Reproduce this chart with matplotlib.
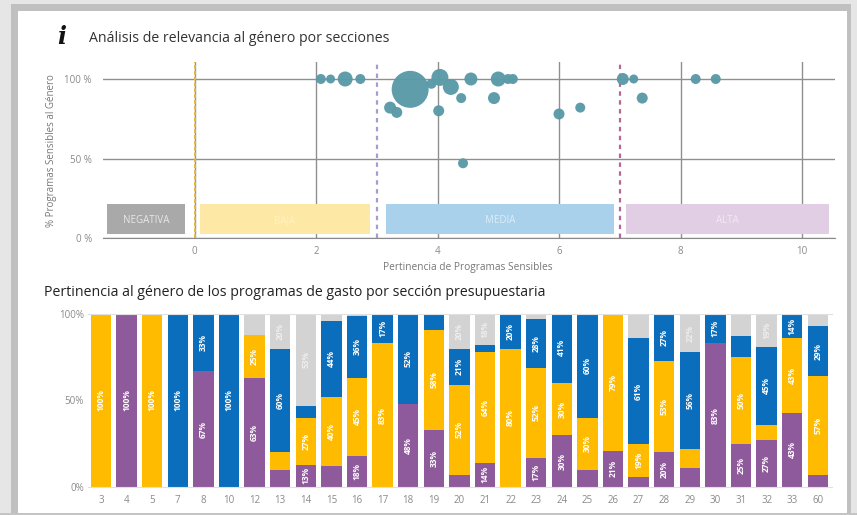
import matplotlib
matplotlib.use("Agg")
import matplotlib.pyplot as plt
from matplotlib.patches import Rectangle

W, H = 857, 515
FONT = "Open Sans"
plt.rcParams["font.family"] = [FONT, "DejaVu Sans"]

# Scatter data
bubble_x = [2.08, 2.24, 2.48, 2.73, 3.55, 3.22, 3.33, 3.9, 4.04, 4.22, 4.55,
            5.0, 5.16, 5.24, 4.93, 4.39, 4.02, 4.42, 6.0, 6.35, 7.05, 7.23, 7.37, 8.25, 8.58]
bubble_y = [100, 100, 100, 100, 93.5, 82, 79, 97, 101, 95, 100,
            100, 100, 100, 88, 88, 80, 47, 78, 82, 100, 100, 88, 100, 100]
bubble_d = [10, 9, 15, 10, 37, 12, 11, 10, 17, 16, 13,
            15, 10, 10, 12, 10, 11, 10, 11, 10, 12, 9, 11, 10, 10]
x_ticks = [0, 2, 4, 6, 8, 10]
y_ticks = [0, 50, 100]
y_tick_labels = ["0 %", "50 %", "100 %"]
bands = [("NEGATIVA", -1.445, -0.156, "#a9a9a9", "#e8e8e8"),
         ("BAJA", 0.09, 2.89, "#fde8a5", "#fff1c8"),
         ("MEDIA", 3.15, 6.9, "#a9d1ec", "#dcedf8"),
         ("ALTA", 7.1, 10.44, "#e1cde4", "#f2e9f3")]

# Stacked bar data
sections = ["3", "4", "5", "7", "8", "10", "12", "13", "14", "15", "16", "17", "18", "19", "20",
            "21", "22", "23", "24", "25", "26", "27", "28", "29", "30", "31", "32", "33", "60"]
alta = [0, 100, 0, 0, 67, 0, 63, 10, 13, 12, 18, 0, 48, 33, 7, 14, 0, 17, 30, 10, 21, 6, 20, 11, 83, 25, 27, 43, 7]
baja = [100, 0, 100, 0, 0, 0, 25, 10, 27, 40, 45, 83, 0, 58, 52, 64, 80, 52, 30, 30, 79, 19, 53, 11, 0, 50, 9, 43, 57]
media = [0, 0, 0, 100, 33, 100, 0, 60, 7, 44, 36, 17, 52, 9, 21, 4, 20, 28, 41, 60, 0, 61, 27, 56, 17, 12, 45, 14, 29]
nula = [0, 0, 0, 0, 0, 0, 12, 20, 53, 4, 1, 0, 0, 0, 20, 18, 0, 3, 0, 0, 0, 14, 0, 22, 0, 13, 19, 0, 7]

fig = plt.figure(figsize=(W / 100, H / 100), dpi=100, facecolor="white")

def box(left, top, right, bottom):
    return [left / W, 1 - bottom / H, (right - left) / W, (bottom - top) / H]

# Screenshot frame: soft grey shadow on top and at both sides
bg = fig.add_axes([0, 0, 1, 1])
bg.set_xlim(0, W); bg.set_ylim(H, 0); bg.axis("off")
bg.add_patch(Rectangle((0, 0), W, H, color="#e6e6e6", lw=0))
bg.add_patch(Rectangle((11, 4), 840, H, color="#c0c0c0", lw=0))
bg.add_patch(Rectangle((0, 513), W, 2, color="#c4c4c4", lw=0))
bg.add_patch(Rectangle((18, 11), 829, 502, color="white", lw=0))
bg.text(62, 37, "i", fontsize=17, fontweight="bold", fontstyle="italic", family="DejaVu Serif",
        ha="center", va="center", color="#111111")
bg.text(89, 38, "Análisis de relevancia al género por secciones", fontsize=10.2, ha="left", va="center", color="#333333")
bg.text(44, 292, "Pertinencia al género de los programas de gasto por sección presupuestaria",
        fontsize=10.2, ha="left", va="center", color="#222222")

# Scatter
ax = fig.add_axes(box(103, 62, 835, 238))
ax.set_xlim((103 - 194.5) / 60.75, (835 - 194.5) / 60.75)
ax.set_ylim(0, 100 * (238 - 62) / 159)
ax.patch.set_alpha(0)
for s in ax.spines.values():
    s.set_visible(False)
ax.spines["bottom"].set_visible(True)
ax.spines["bottom"].set_color("#8a8a8a")
ax.set_xticks(x_ticks)
ax.set_yticks(y_ticks)
ax.set_yticklabels(y_tick_labels)
ax.tick_params(length=0, labelsize=7, labelcolor="#8a8a8a", pad=6)
ax.tick_params(axis="y", pad=8)
ax.grid(True, color="#8f8f8f", lw=1.0)
ax.set_axisbelow(True)
for label, x0, x1, color, tc in bands:
    ax.add_patch(Rectangle((x0, 2.3), x1 - x0, 19, color=color, lw=0, zorder=1.5))
    ax.text((x0 + x1) / 2, 11, label, color=tc, fontsize=7, ha="center", va="center", zorder=1.6)
ax.axvline(0, color="#e3b93a", lw=1.4, ls=(0, (2, 1)), zorder=2)
ax.axvline(3, color="#a79bd0", lw=1.6, ls=(0, (2, 2)), zorder=2)
ax.axvline(7, color="#b5669b", lw=1.6, ls=(0, (2, 2)), zorder=2)
ax.scatter(bubble_x, bubble_y, s=[(d * 0.72) ** 2 for d in bubble_d], color="#5b9aa8", alpha=0.97,
           lw=0, zorder=3, clip_on=False)
ax.set_xlabel("Pertinencia de Programas Sensibles", fontsize=7.25, color="#777777")
ax.xaxis.set_label_coords((468 - 103) / 732, (238 - 262) / 176)
ax.set_ylabel("% Programas Sensibles al Género", fontsize=7, color="#777777")
ax.yaxis.set_label_coords((57 - 103) / 732, (238 - 151) / 176)

# Stacked bars
ax2 = fig.add_axes(box(88, 314, 832, 487))
ax2.set_xlim((88 - 101) / 25.6, (832 - 101) / 25.6)
ax2.set_ylim(0, 100)
ax2.patch.set_alpha(0)
for s in ax2.spines.values():
    s.set_visible(False)
ax2.spines["top"].set_visible(True); ax2.spines["top"].set_color("#e0e0e0")
ax2.spines["bottom"].set_visible(True); ax2.spines["bottom"].set_color("#e0e0e0")
xs = list(range(len(sections)))
bottoms = [0] * len(xs)
for vals, color, tc, minimum in ((alta, "#8e5a9b", "white", 13), (baja, "#ffbb00", "white", 13),
                                 (media, "#0a6ebd", "white", 13), (nula, "#d3d3d3", "#eeeeee", 15)):
    ax2.bar(xs, vals, bottom=bottoms, width=0.8, color=color, lw=0, zorder=2)
    for i, v in enumerate(vals):
        if v >= minimum:
            ax2.text(i, bottoms[i] + v / 2, f"{v}%", rotation=90, ha="center", va="center",
                     color=tc, fontsize=6, fontweight="bold", zorder=3)
    bottoms = [b + v for b, v in zip(bottoms, vals)]
ax2.set_xticks(xs)
ax2.set_xticklabels(sections)
ax2.set_yticks([0, 50, 100])
ax2.set_yticklabels(["0%", "50%", "100%"])
ax2.tick_params(length=0, labelsize=7, labelcolor="#8a8a8a", pad=6)
ax2.tick_params(axis="y", pad=3)

fig.savefig("out.png", dpi=100)
